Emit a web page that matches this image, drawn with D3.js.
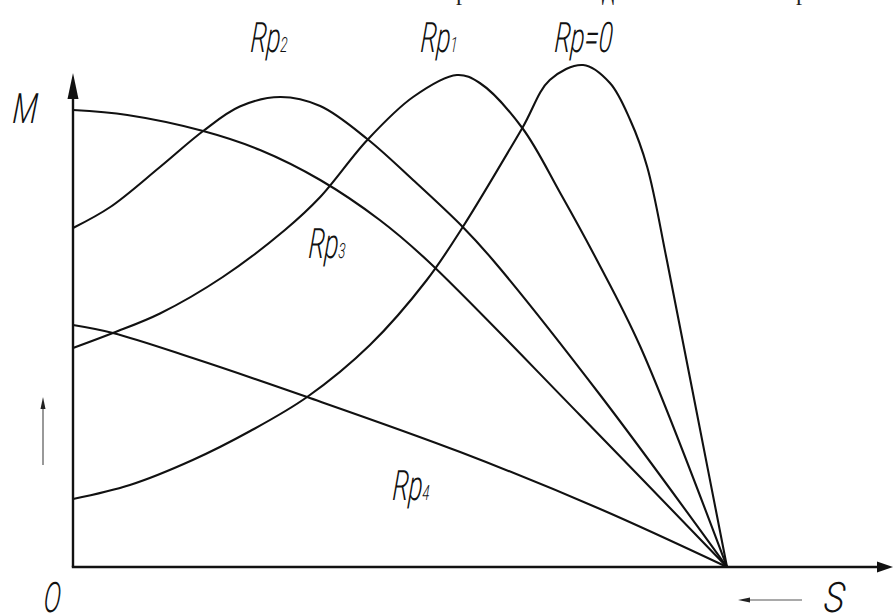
<!DOCTYPE html>
<html>
<head>
<meta charset="utf-8">
<script src="https://cdn.jsdelivr.net/npm/d3@7"></script>
<style>
  html, body { margin: 0; padding: 0; background: #fff; }
  svg { display: block; }
</style>
</head>
<body>
<svg id="chart" width="893" height="614"></svg>
<script>
// Torque–slip characteristics M(s) of a wound-rotor induction motor
// for several added rotor resistances. Slip runs from 1 at the M axis to 0.

const slipRp0   = [1, 0.913, 0.817, 0.729, 0.642, 0.546, 0.459, 0.404, 0.313, 0.271, 0.220, 0.179, 0.148, 0.122, 0.092, 0.050, 0];
const torqueRp0 = [13.6, 16.4, 21.4, 27.2, 34.0, 44.4, 57.4, 68.0, 87.8, 97.4, 100.4, 96.8, 89.4, 80.0, 61.4, 33.4, 0];

const slipRp1   = [1, 0.939, 0.867, 0.771, 0.676, 0.622, 0.550, 0.480, 0.413, 0.378, 0.313, 0.255, 0.199, 0.133, 0];
const torqueRp1 = [43.8, 46.8, 50.7, 58.0, 67.4, 74.0, 85.4, 94.0, 98.4, 96.8, 87.8, 74.8, 61.4, 44.2, 0];

const slipRp2   = [1, 0.943, 0.867, 0.801, 0.745, 0.683, 0.622, 0.550, 0.480, 0.404, 0.358, 0.194, 0];
const torqueRp2 = [67.8, 72.0, 80.0, 87.2, 92.1, 94.0, 92.2, 85.6, 77.4, 68.0, 61.4, 34.4, 0];

const slipRp3   = [1, 0.917, 0.801, 0.714, 0.622, 0.531, 0.459, 0.225, 0];
const torqueRp3 = [91.4, 90.4, 87.2, 83.4, 77.4, 69.4, 61.4, 30.4, 0];

const slipRp4   = [1, 0.939, 0.817, 0.642, 0.408, 0.194, 0];
const torqueRp4 = [48.4, 46.8, 41.8, 34.0, 23.0, 11.6, 0];

const curveLabels = ["Rp=0", "Rp1", "Rp2", "Rp3", "Rp4"];

const svg = d3.select("#chart");

// s = 1 sits on the M axis, s = 0 is the synchronous point on the S axis
const x = d3.scaleLinear().domain([1, 0]).range([73, 727]);
const y = d3.scaleLinear().domain([0, 100]).range([567, 67]);
const sAxisEnd = x.invert(893);
const mAxisEnd = y.invert(73);

const curves = [
  [slipRp0, torqueRp0],
  [slipRp1, torqueRp1],
  [slipRp2, torqueRp2],
  [slipRp3, torqueRp3],
  [slipRp4, torqueRp4]
].map(([s, m]) => s.map((v, i) => ({ s: v, m: m[i] })));

const line = d3.line()
  .x(d => x(d.s))
  .y(d => y(d.m))
  .curve(d3.curveCatmullRom.alpha(0.5));

svg.append("g")
  .selectAll("path")
  .data(curves)
  .join("path")
  .attr("d", line)
  .attr("fill", "none")
  .attr("stroke", "#111")
  .attr("stroke-width", 2.1)
  .attr("stroke-linejoin", "round");

// axes with arrowheads
const axes = svg.append("g").attr("stroke", "#111").attr("fill", "#111");
const x0 = x(1), y0 = y(0);
const xEnd = x(sAxisEnd), yEnd = y(mAxisEnd);
axes.append("line")
  .attr("x1", x0).attr("y1", y0).attr("x2", x0).attr("y2", yEnd + 24)
  .attr("stroke-width", 2.4);
axes.append("path")
  .attr("d", `M${x0},${yEnd} L${x0 - 5.5},${yEnd + 26} L${x0 + 5.5},${yEnd + 26} Z`)
  .attr("stroke", "none");
axes.append("line")
  .attr("x1", x0 - 1.2).attr("y1", y0).attr("x2", xEnd - 14).attr("y2", y0)
  .attr("stroke-width", 2.4);
axes.append("path")
  .attr("d", `M${xEnd},${y0} L${xEnd - 16},${y0 - 5.5} L${xEnd - 16},${y0 + 5.5} Z`)
  .attr("stroke", "none");

// small direction arrows
const hint = svg.append("g").attr("stroke", "#555").attr("fill", "#222");
hint.append("line").attr("x1", 43).attr("y1", 465).attr("x2", 43).attr("y2", 405).attr("stroke-width", 1.2);
hint.append("path").attr("d", "M43,397 L40.5,409 L45.5,409 Z").attr("stroke", "none");
hint.append("line").attr("x1", 802).attr("y1", 600).attr("x2", 746).attr("y2", 600).attr("stroke-width", 1.2);
hint.append("path").attr("d", "M738,600 L750,597.5 L750,602.5 Z").attr("stroke", "none");

// lettering: thin condensed italic
const font = "Roboto, 'Open Sans', sans-serif";
function label(px, py, main, sub, sx = 0.62) {
  const t = svg.append("text")
    .attr("transform", `translate(${px},${py}) scale(${sx},1) skewX(-6)`)
    .attr("font-family", font)
    .attr("font-style", "italic")
    .attr("font-weight", 300)
    .attr("font-size", 42)
    .attr("fill", "#111");
  t.append("tspan").text(main);
  if (sub) t.append("tspan").attr("font-size", 21).text(sub);
}

const labelSpots = [
  [554, 52], [420, 52], [250, 52], [308, 258], [392, 500]
];
curveLabels.forEach((name, i) => {
  const m = name.match(/^(Rp)(\d)$/);
  if (m) label(labelSpots[i][0], labelSpots[i][1], m[1], m[2]);
  else label(labelSpots[i][0], labelSpots[i][1], name, null);
});
label(12, 123, "M", null, 0.7);
label(43, 612, "O", null, 0.62);
label(823, 612, "S", null, 0.85);

// tail of the text line above the figure
const above = svg.append("g")
  .attr("font-family", "'Liberation Serif', serif")
  .attr("font-size", 24)
  .attr("fill", "#222")
  .attr("text-anchor", "middle");
above.append("text").attr("x", 462).attr("y", 0).text("р");
above.append("text").attr("x", 608).attr("y", 0).text("д");
above.append("text").attr("x", 802).attr("y", 0).text("р");
</script>
</body>
</html>
